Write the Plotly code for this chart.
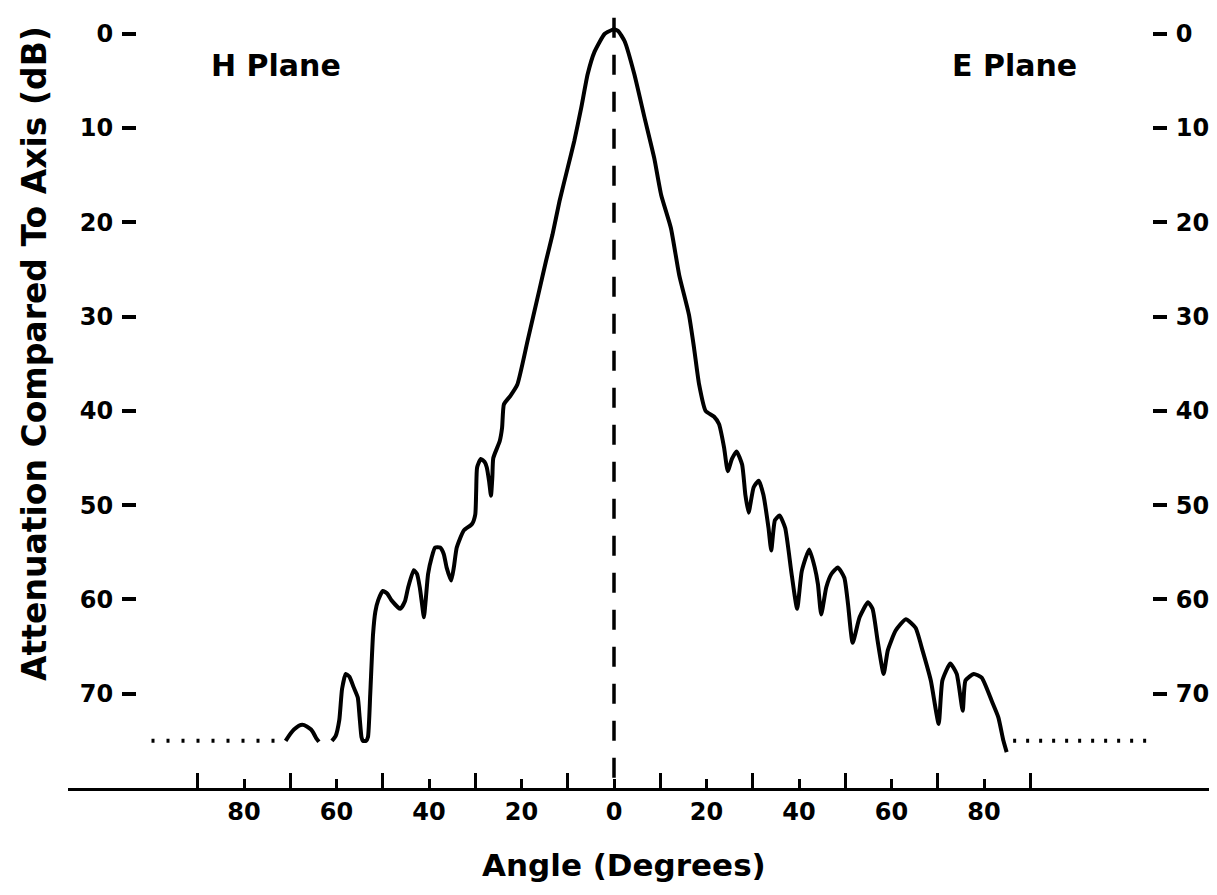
import plotly.graph_objects as go

# ---------------- data (angle in degrees, attenuation in dB) ----------------
# H plane (left, negative angles), small far side-lobe
h_lobe_angle = [-71.0, -69.2, -67.4, -65.5, -64.4, -63.8]
h_lobe_db = [75.0, 73.8, 73.3, 73.8, 74.7, 75.1]

# H plane main pattern
h_angle = [-61.0, -60.2, -59.4, -58.8, -58.0, -57.2, -56.3, -55.4, -55.0, -54.6,
           -54.3, -53.6, -53.2, -52.7, -52.1, -51.6, -51.0, -50.0, -49.0, -48.1,
           -46.2, -45.2, -44.5, -43.3, -42.6, -42.0, -41.5, -41.1, -40.7, -40.2,
           -39.4, -38.7, -37.6, -36.8, -36.2, -35.2, -34.6, -34.0, -32.5, -30.7,
           -30.0, -29.8, -29.6, -28.8, -28.0, -27.5, -27.0, -26.6, -26.3, -26.1,
           -24.7, -24.2, -23.8, -22.4, -20.9, -18.7, -16.2, -14.7, -13.3, -11.8,
           -10.0, -8.6, -7.1, -5.7, -4.2, -2.0, 0.0]
h_db = [75.0, 74.5, 72.8, 69.5, 67.9, 68.2, 69.3, 70.4, 72.5, 74.6,
        75.0, 75.0, 74.6, 70.0, 63.7, 61.3, 60.1, 59.1, 59.4, 60.1,
        61.0, 60.2, 58.7, 56.9, 57.3, 58.7, 60.5, 61.9, 60.0, 57.3,
        55.5, 54.5, 54.5, 55.2, 56.6, 58.0, 56.5, 54.5, 52.7, 52.0,
        51.0, 48.5, 46.0, 45.1, 45.4, 46.0, 47.5, 49.0, 47.0, 45.0,
        43.2, 41.8, 39.3, 38.4, 37.2, 32.6, 27.3, 24.1, 21.3, 17.8,
        14.2, 11.4, 7.9, 4.3, 1.9, 0.0, -0.5]

# E plane (right, positive angles)
e_angle = [0.0, 0.9, 2.3, 4.4, 6.6, 8.7, 10.2, 12.3, 14.1, 16.2,
           17.3, 18.4, 19.8, 21.6, 22.7, 23.8, 24.6, 25.5, 26.5, 27.7,
           28.4, 29.1, 30.2, 31.3, 32.3, 33.4, 34.0, 34.8, 35.8, 37.0,
           38.4, 39.6, 40.6, 42.2, 43.4, 44.1, 44.8, 45.9, 47.0, 48.4,
           49.8, 50.6, 51.6, 53.1, 54.9, 55.9, 57.0, 58.3, 59.2, 60.9,
           63.1, 65.2, 66.7, 68.5, 70.2, 71.0, 72.7, 74.1, 75.4, 76.0,
           77.8, 79.5, 81.7, 83.1, 84.2, 84.9]
e_db = [-0.5, -0.3, 0.8, 4.3, 8.9, 13.2, 17.1, 20.6, 25.6, 29.8,
        33.3, 37.2, 40.0, 40.6, 41.4, 43.9, 46.4, 45.1, 44.3, 45.7,
        48.9, 50.8, 48.1, 47.4, 48.9, 52.4, 54.8, 51.6, 51.1, 52.4,
        57.3, 61.0, 57.0, 54.7, 56.6, 58.4, 61.6, 58.7, 57.3, 56.6,
        57.7, 60.5, 64.6, 61.9, 60.3, 61.0, 64.4, 67.9, 65.4, 63.3,
        62.1, 63.0, 65.4, 68.6, 73.2, 68.6, 66.8, 67.9, 71.8, 68.6,
        67.9, 68.3, 70.8, 72.5, 75.0, 76.2]

# measurement floor (dotted) segments
floor_db = 75.0
floor_left = [-100.0, -73.0]
floor_right = [86.3, 116.0]

# axis ticks
x_label_vals = [-80, -60, -40, -20, 0, 20, 40, 60, 80]
x_label_text = ["80", "60", "40", "20", "0", "20", "40", "60", "80"]
x_long_ticks = [-90, -70, -50, -30, -10, 10, 30, 50, 70, 90]
y_tick_vals = [0, 10, 20, 30, 40, 50, 60, 70]

# ---------------- figure ----------------
W, H = 1217, 895
FONT = "DejaVu Sans"
line_w = 4

fig = go.Figure()

fig.add_trace(go.Scatter(x=[0, 0], y=[-1.7, 80], mode="lines",
                         line=dict(color="black", width=3.5, dash="20px,17px"),
                         hoverinfo="skip"))
fig.add_trace(go.Scatter(x=floor_left, y=[floor_db, floor_db], mode="lines",
                         line=dict(color="black", width=4, dash="3px,12px")))
fig.add_trace(go.Scatter(x=floor_right, y=[floor_db, floor_db], mode="lines",
                         yaxis="y2",
                         line=dict(color="black", width=4, dash="3px,10px")))
fig.add_trace(go.Scatter(x=h_lobe_angle, y=h_lobe_db, mode="lines",
                         line=dict(color="black", width=line_w, shape="spline", smoothing=0.8)))
fig.add_trace(go.Scatter(x=h_angle, y=h_db, mode="lines",
                         line=dict(color="black", width=line_w, shape="spline", smoothing=0.5)))
fig.add_trace(go.Scatter(x=e_angle, y=e_db, mode="lines",
                         line=dict(color="black", width=line_w, shape="spline", smoothing=0.5)))

px_per_deg = 4.625
x0_px = 606
plot_bottom = 780
y_range = [80.0, -2.73]

yaxis_common = dict(
    range=y_range, tickvals=y_tick_vals, ticks="outside", ticklen=14, tickwidth=4,
    tickcolor="black", showline=False, showgrid=False, zeroline=False,
    tickfont=dict(family=FONT, size=24, color="black", weight="bold"),
    ticklabelstandoff=4, fixedrange=True, automargin=False,
)

fig.update_layout(
    width=W, height=H,
    margin=dict(l=0, r=0, t=0, b=H - plot_bottom, autoexpand=False),
    paper_bgcolor="white", plot_bgcolor="white",
    showlegend=False,
    xaxis=dict(
        domain=[60 / W, 1.0],
        range=[(60 - x0_px) / px_per_deg, (W - x0_px) / px_per_deg],
        showline=True, linewidth=3, linecolor="black",
        showgrid=False, zeroline=False,
        tickmode="array", tickvals=x_label_vals, ticktext=x_label_text,
        ticks="inside", ticklen=9, tickwidth=3, tickcolor="black",
        tickfont=dict(family=FONT, size=24, color="black", weight="bold"),
        ticklabelstandoff=0,
        minor=dict(tickmode="array", tickvals=x_long_ticks, ticks="inside",
                   ticklen=15, tickwidth=3, tickcolor="black", showgrid=False),
        fixedrange=True, automargin=False,
    ),
    yaxis=dict(anchor="free", position=128 / W, side="left", **yaxis_common),
    yaxis2=dict(anchor="free", position=1144 / W, side="right", overlaying="y",
                **yaxis_common),
)

def py(ypx):
    return (plot_bottom - ypx) / plot_bottom

ann_font = dict(family=FONT, color="black", weight="bold")
common = dict(xref="paper", yref="paper", showarrow=False,
              xanchor="center", yanchor="middle")
fig.add_annotation(text="H Plane", x=268 / W, y=py(58),
                   font=dict(size=30, **ann_font), **common)
fig.add_annotation(text="E Plane", x=1006 / W, y=py(58),
                   font=dict(size=30, **ann_font), **common)
fig.add_annotation(text="Attenuation Compared To Axis (dB)", x=26 / W, y=py(346),
                   textangle=-90, font=dict(size=33, **ann_font), **common)
fig.add_annotation(text="Angle (Degrees)", x=616 / W, y=py(857),
                   font=dict(size=31, **ann_font), **common)

fig.write_html("out.html")
